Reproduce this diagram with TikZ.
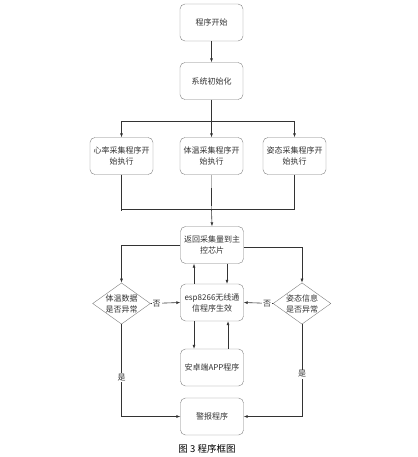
\documentclass[tikz,border=0pt]{standalone}
\usepackage{fontspec}
\usepackage{xcolor}
\newfontfamily\cjk{Noto Sans CJK SC}
\usetikzlibrary{arrows.meta}
\usetikzlibrary{shapes.geometric}
\definecolor{boxgray}{HTML}{808080}
\definecolor{linegray}{HTML}{333333}
\tikzset{
	stepbox/.style={draw=boxgray, rounded corners=5pt, fill=white, minimum width=63pt, minimum height=37pt, align=center, font=\cjk\fontsize{8}{11}\selectfont, text=linegray, inner sep=1pt},
	testbox/.style={draw=boxgray, diamond, aspect=1.4, inner sep=0pt, fill=white, align=center, font=\cjk\fontsize{8}{11}\selectfont, text=linegray},
	flow/.style={draw=linegray, line width=0.6pt, -{Latex[length=4pt,width=3pt]}},
	plain/.style={draw=linegray, line width=0.6pt},
	lbl/.style={font=\cjk\fontsize{8}{10}\selectfont, text=linegray, fill=white, inner sep=1pt}
}

\begin{document}
\begin{tikzpicture}[x=1pt, y=-1pt]
				\useasboundingbox (0,0) rectangle (417,457);
				
				\node[stepbox] (start) at (211.5,22.5) {程序开始};
				\node[stepbox] (init) at (211.5,81) {系统初始化};
				\node[stepbox] (heart) at (121.5,156) {心率采集程序开\\始执行};
				\node[stepbox] (temp) at (211.5,156) {体温采集程序开\\始执行};
				\node[stepbox] (pose) at (294.5,156) {姿态采集程序开\\始执行};
				\coordinate (split) at (211.5,121);
				\coordinate (join) at (211.5,209);
				
				\node[stepbox] (ret) at (212,245) {返回采集量到主\\控芯片};
				\node[stepbox] (esp) at (212,302.5) {esp8266无线通\\信程序生效};
				\node[stepbox] (app) at (212,367.5) {安卓端APP程序};
				\node[stepbox] (alarm) at (212,416.5) {警报程序};
				\node[testbox] (dtemp) at (121.5,303.5) {体温数据\\是否异常};
				\node[testbox] (dpose) at (302,303.5) {姿态信息\\是否异常};
				
				\node[font=\cjk\fontsize{9.5}{11}\selectfont, text=black] (caption) at (207,449) {图 3 程序框图};
				
				% top part
				\draw[flow] (start) -- (init);
				\draw[plain] (init) -- (split);
				\draw[flow] (split) -| (heart.north);
				\draw[flow] (split) -- (temp.north);
				\draw[flow] (split) -| (pose.north);
				
				% collecting lines
				\draw[plain] (heart.south) |- (join);
				\draw[plain] (pose.south) |- (join);
				\draw[plain, draw=boxgray!60] (temp.south) -- (join);
				\draw[draw=linegray, line width=1.6pt] (heart.south) -- ([yshift=-2pt]heart.south |- join);
				\draw[draw=linegray, line width=1.6pt] ([yshift=21pt]temp.south |- join) -- ([yshift=3pt]temp.south |- join);
				\draw[draw=linegray, line width=1.6pt] ([yshift=17pt]pose.south |- join) -- ([yshift=4pt]pose.south |- join);
				\draw[flow] (join) -- (ret.north);
				
				% decisions
				\draw[flow] (ret.west) -| (dtemp.north);
				\draw[flow] ([yshift=-2pt]ret.east) -| (dpose.north);
				\draw[flow] ([xshift=15pt]ret.south) -- ([xshift=15pt]esp.north);
				\draw[flow] ([xshift=-18pt]esp.north) -- ([xshift=-18pt]ret.south);
				\draw[flow] (dtemp.east) -- node[lbl, pos=0.2] {否} (esp.west);
				\draw[flow] (dpose.west) -- node[lbl, pos=0.2] {否} (esp.east);
				\draw[flow] ([xshift=-18pt]esp.south) -- ([xshift=-18pt]app.north);
				\draw[flow] ([xshift=16pt]app.north) -- ([xshift=16pt]esp.south);
				\draw[flow] (dtemp.south) |- node[lbl, pos=0.29] {是} (alarm.west);
				\draw[flow] (dpose.south) |- node[lbl, pos=0.27] {是} (alarm.east);
			\end{tikzpicture}
\end{document}
